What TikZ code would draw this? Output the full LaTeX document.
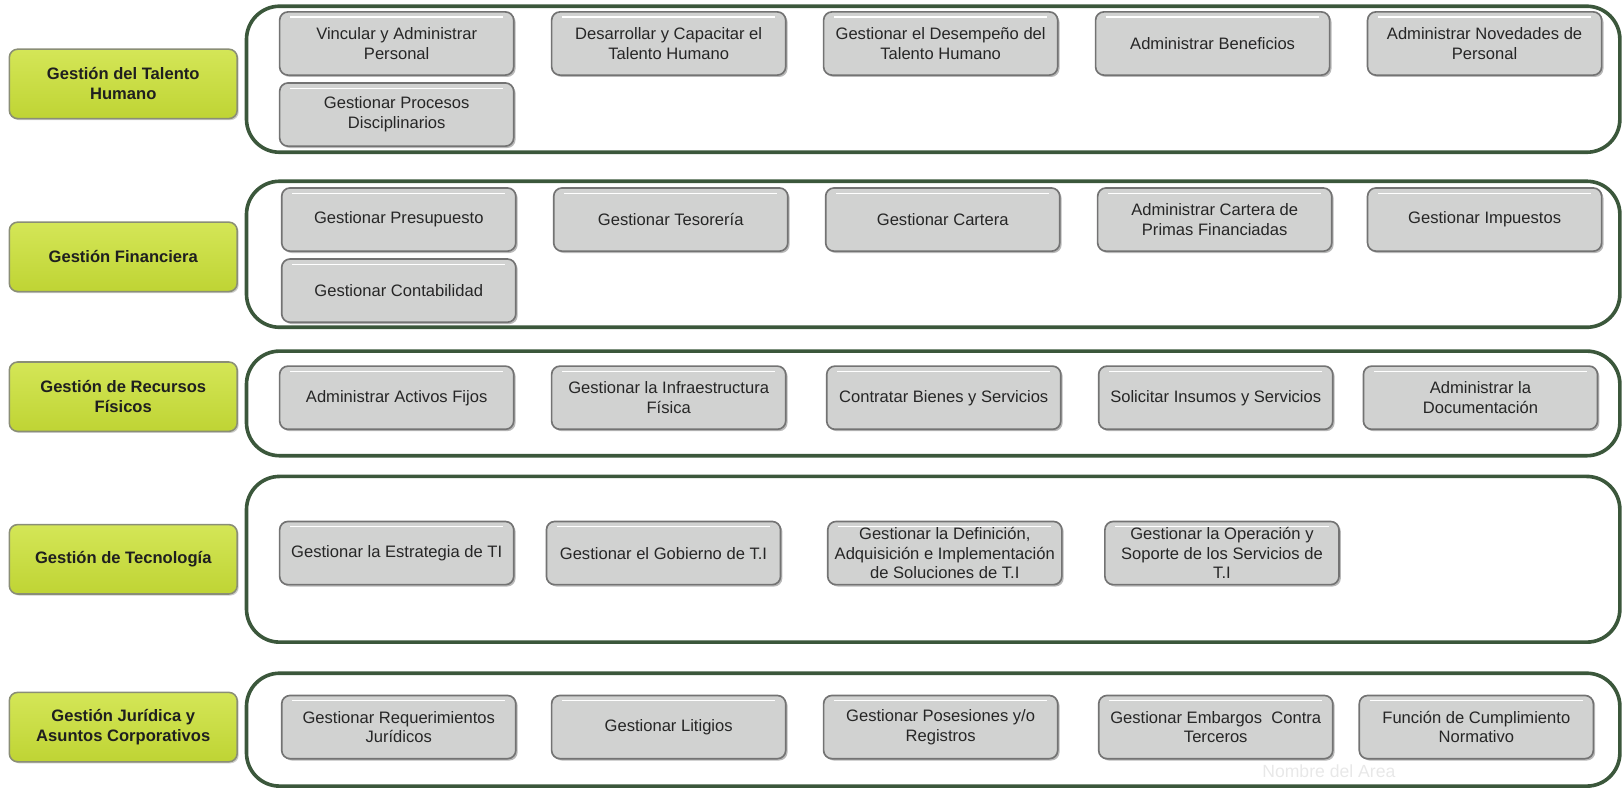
\documentclass[tikz,border=0pt]{standalone}
\usepackage{fontspec}
\setmainfont{Liberation Sans}
\usepackage{xcolor}
\usepackage{tikz}
\usetikzlibrary{positioning,shadows}

\definecolor{panelgreen}{HTML}{3B573B}
\definecolor{boxgray}{HTML}{D1D2D1}
\definecolor{boxedge}{HTML}{737373}
\definecolor{limetop}{HTML}{D4E657}
\definecolor{limebot}{HTML}{BFD434}
\definecolor{areaedge}{HTML}{8A8E76}
\definecolor{inktext}{HTML}{262626}

\begin{document}
\begin{tikzpicture}[x=1pt, y=-1pt,
    panel/.style={draw=panelgreen, line width=3.5pt, rounded corners=32pt},
    areabox/.style={rectangle, rounded corners=8pt, draw=areaedge, line width=1.5pt, top color=limetop, bottom color=limebot, minimum width=220pt, minimum height=67pt, align=center, text=black!88, font=\fontsize{16}{19.5}\selectfont\bfseries, drop shadow={shadow xshift=1.5pt, shadow yshift=-1.5pt, opacity=0.4}},
    procbox/.style={rectangle, rounded corners=8pt, draw=boxedge, line width=1.6pt, fill=boxgray, minimum width=226pt, minimum height=61pt, inner sep=2pt, align=center, text=inktext, font=\fontsize{16}{19}\selectfont, drop shadow={shadow xshift=1.8pt, shadow yshift=-1.8pt, opacity=0.55},
        path picture={\draw[white, line width=1.2pt] ([xshift=10pt,yshift=-5pt]path picture bounding box.north west) -- ([xshift=-10pt,yshift=-5pt]path picture bounding box.north east);}}]
    \useasboundingbox (0,0) rectangle (1568,763);

    % group frames
    \draw [panel] (238,6) rectangle (1564,147);
    \draw [panel] (238,175) rectangle (1564,316);
    \draw [panel] (238,339) rectangle (1564,440);
    \draw [panel] (238,460) rectangle (1564,620);
    \draw [panel] (238,650) rectangle (1564,759);

    % area labels
    \node [areabox] (talento) at (119,81) {Gestión del Talento\\Humano};
    \node [areabox] (financiera) at (119,248) {Gestión Financiera};
    \node [areabox] (fisicos) at (119,383) {Gestión de Recursos\\Físicos};
    \node [areabox] (tecnologia) at (119,540) {Gestión de Tecnología};
    \node [areabox] (juridica) at (119,702) {Gestión Jurídica y\\Asuntos Corporativos};

    % Talento Humano
    \node [procbox] (vincular) at (383,42) {Vincular y Administrar\\Personal};
    \node [procbox, right=35pt of vincular] (capacitar) {Desarrollar y Capacitar el\\Talento Humano};
    \node [procbox, right=35pt of capacitar] (desempeno) {Gestionar el Desempeño del\\Talento Humano};
    \node [procbox, right=35pt of desempeno] (beneficios) {Administrar Beneficios};
    \node [procbox, right=35pt of beneficios] (novedades) {Administrar Novedades de\\Personal};
    \node [procbox, below=6pt of vincular] (disciplina) {Gestionar Procesos\\Disciplinarios};

    % Financiera
    \node [procbox] (presupuesto) at (385,212) {Gestionar Presupuesto};
    \node [procbox, right=35pt of presupuesto] (tesoreria) {Gestionar Tesorería};
    \node [procbox, right=35pt of tesoreria] (cartera) {Gestionar Cartera};
    \node [procbox, right=35pt of cartera] (primas) {Administrar Cartera de\\Primas Financiadas};
    \node [procbox, right=33pt of primas] (impuestos) {Gestionar Impuestos};
    \node [procbox, below=6pt of presupuesto] (contabilidad) {Gestionar Contabilidad};

    % Recursos Fisicos
    \node [procbox] (activos) at (383,384) {Administrar Activos Fijos};
    \node [procbox, right=35pt of activos] (infra) {Gestionar la Infraestructura\\Física};
    \node [procbox, right=38pt of infra] (contratar) {Contratar Bienes y Servicios};
    \node [procbox, right=35pt of contratar] (insumos) {Solicitar Insumos y Servicios};
    \node [procbox, right=28pt of insumos] (documentos) {Administrar la\\Documentación};

    % Tecnologia
    \node [procbox] (estrategia) at (383,534) {Gestionar la Estrategia de TI};
    \node [procbox, right=30pt of estrategia] (gobierno) {Gestionar el Gobierno de T.I};
    \node [procbox, right=44pt of gobierno] (soluciones) {Gestionar la Definición,\\Adquisición e Implementación\\de Soluciones de T.I};
    \node [procbox, right=40pt of soluciones] (operacion) {Gestionar la Operación y\\Soporte de los Servicios de\\T.I};

    % Juridica
    \node [procbox] (requerimientos) at (385,702) {Gestionar Requerimientos\\Jurídicos};
    \node [procbox, right=33pt of requerimientos] (litigios) {Gestionar Litigios};
    \node [procbox, right=35pt of litigios] (posesiones) {Gestionar Posesiones y/o\\Registros};
    \node [procbox, right=38pt of posesiones] (embargos) {Gestionar Embargos\ \ Contra\\Terceros};
    \node [procbox, right=24pt of embargos] (cumplimiento) {Función de Cumplimiento\\Normativo};

    \node [text=gray!18, font=\fontsize{17}{20}\selectfont] (area) at (1283,745) {Nombre del Area};
\end{tikzpicture}
\end{document}
